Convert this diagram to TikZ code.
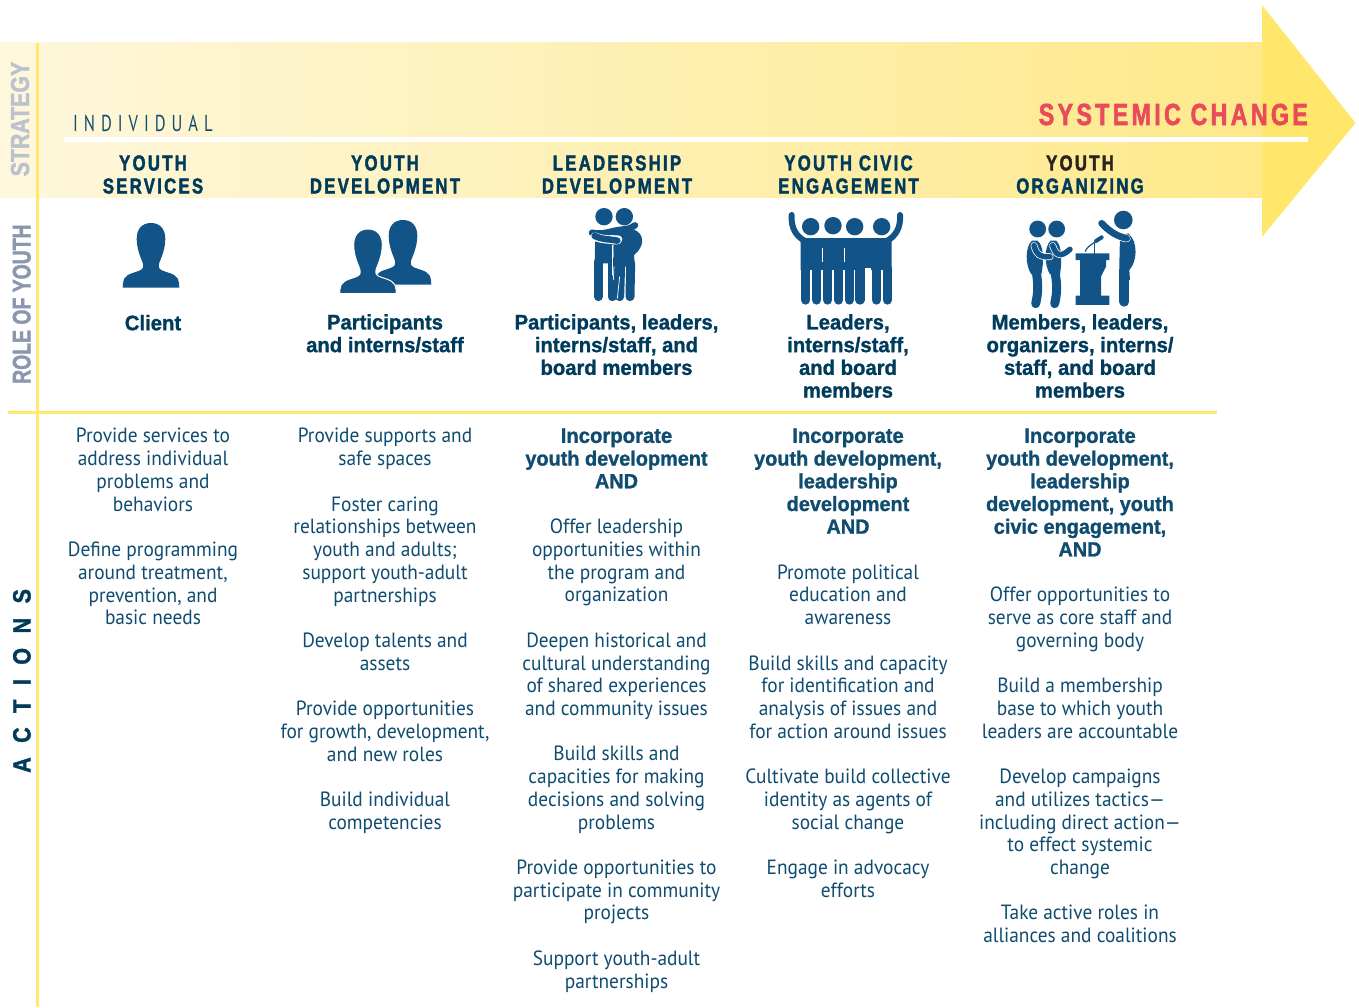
\documentclass[tikz,border=0pt]{standalone}
\usepackage{fontspec}
\setmainfont{PT Sans}[FakeStretch=0.94]
\newfontfamily\headf{Liberation Sans}[FakeStretch=0.78,LetterSpace=10.5,BoldFont={Liberation Sans Bold},BoldFeatures={FakeBold=1.9}]
\newfontfamily\rolef{Liberation Sans}[FakeStretch=0.965,BoldFont={Liberation Sans Bold},BoldFeatures={FakeBold=1.2}]
\newfontfamily\indf{PT Sans}[FakeStretch=0.72,LetterSpace=26]
\newfontfamily\sysf{Liberation Sans}[FakeStretch=0.76,LetterSpace=11,BoldFont={Liberation Sans Bold},BoldFeatures={FakeBold=1.9}]
\newfontfamily\sidef{Liberation Sans}[FakeStretch=0.82,BoldFont={Liberation Sans Bold},BoldFeatures={FakeBold=1.6}]
\newfontfamily\sideB{Liberation Sans}[FakeStretch=0.76,BoldFont={Liberation Sans Bold},BoldFeatures={FakeBold=1.6}]
\newfontfamily\sideA{Liberation Sans}[FakeStretch=0.86,LetterSpace=58,BoldFont={Liberation Sans Bold},BoldFeatures={FakeBold=1.6}]
\definecolor{inkb}{HTML}{003B5C}
\definecolor{bodyb}{HTML}{0F4C6F}
\definecolor{iconb}{HTML}{125487}
\definecolor{ylw}{HTML}{FFE76C}
\definecolor{lineY}{HTML}{FFE96F}
\definecolor{pale}{HTML}{FEF7DC}
\definecolor{mid}{HTML}{FDF1BC}
\definecolor{endy}{HTML}{FEE98A}
\definecolor{redt}{HTML}{E94B5A}
\definecolor{greyA}{HTML}{BAC2D0}
\definecolor{greyB}{HTML}{8B97AE}
\tikzset{
  x=1pt,y=-1pt,
  actiontext/.style={anchor=north,align=center,inner sep=0pt,text=bodyb,
    font=\fontsize{20.6}{22.72}\selectfont,execute at begin node={\rule{0pt}{16pt}}},
  headtext/.style={anchor=north,align=center,inner sep=0pt,text=inkb,
    font=\headf\bfseries\fontsize{21.5}{23}\selectfont,execute at begin node={\rule{0pt}{16pt}}},
  roletext/.style={anchor=north,align=center,inner sep=0pt,text=inkb,
    font=\rolef\bfseries\fontsize{21}{22.72}\selectfont,execute at begin node={\rule{0pt}{16pt}}},
  sidetext/.style={anchor=base west,rotate=90,inner sep=0pt},
  ic/.style={fill=iconb,draw=none},
  limb/.style={draw=iconb,line cap=round,line join=round},
  seam/.style={draw=white,line cap=round,line join=round},
  zoomed/.style={x=0.3333pt,y=-0.3333pt},
}
\newcommand{\pgap}{\\[22.72pt]}
\newcommand{\bust}{(0,0) .. controls (9,0) and (14.3,6) .. (14.3,15.7)
  .. controls (14.3,25) and (11,33) .. (9.3,37.3)
  .. controls (7.5,41) and (7,45) .. (9.5,46.5)
  .. controls (14,49.5) and (24,50) .. (27,56)
  .. controls (28,59) and (28.3,62) .. (28.3,64.7)
  -- (-28.3,64.7) .. controls (-28.3,62) and (-28,59) .. (-27,56)
  .. controls (-24,50) and (-14,49.5) .. (-9.5,46.5)
  .. controls (-7,45) and (-7.5,41) .. (-9.3,37.3)
  .. controls (-11,33) and (-14.3,25) .. (-14.3,15.7)
  .. controls (-14.3,6) and (-9,0) .. (0,0) -- cycle}
\begin{document}
\begin{tikzpicture}
\useasboundingbox (0,0) rectangle (1359,1007);
% arrow
\shade[left color=pale,middle color=mid,right color=endy] (0,42) rectangle (1262,197);
\fill[ylw] (1262,5) -- (1355.5,123) -- (1262,237) -- cycle;
\fill[white] (64,137) rectangle (1308,142);
\fill[lineY] (36,43) rectangle (39,1007);
\fill[lineY] (8,411) rectangle (1217,413.5);
% side labels
\node[sidetext,text=greyA,font=\sidef\bfseries\fontsize{26}{26}\selectfont] (sStrategy) at (29,176.5) {STRATEGY};
\node[sidetext,text=greyB,font=\sideB\bfseries\fontsize{25.5}{26}\selectfont] (sRole) at (30.5,384) {ROLE OF YOUTH};
\node[sidetext,text=inkb,font=\sideA\bfseries\fontsize{25}{26}\selectfont] (sActions) at (30.5,773) {ACTIONS};
% top labels
\node[anchor=base west,inner sep=0pt,text=bodyb,font=\indf\fontsize{23}{23}\selectfont] (lInd) at (73,131) {INDIVIDUAL};
\node[anchor=base east,inner sep=0pt,text=redt,font=\sysf\bfseries\fontsize{30.5}{31}\selectfont] (lSys) at (1308,125) {SYSTEMIC CHANGE};
% heads
\node[headtext] (h1) at (153,155.2) {YOUTH\\SERVICES};
\node[headtext] (h2) at (385,155.2) {YOUTH\\DEVELOPMENT};
\node[headtext] (h3) at (617,155.2) {LEADERSHIP\\DEVELOPMENT};
\node[headtext] (h4) at (848.5,155.2) {YOUTH CIVIC\\ENGAGEMENT};
\node[headtext] (h5) at (1080,155.2) {\textcolor[HTML]{2A2320}{YOUTH}\\ORGANIZING};
% roles
\node[roletext] (r1) at (153,314) {Client};
\node[roletext] (r2) at (385,314) {Participants\\and interns/staff};
\node[roletext] (r3) at (616.5,314) {Participants, leaders,\\interns/staff, and\\board members};
\node[roletext] (r4) at (848,314) {Leaders,\\interns/staff,\\and board\\members};
\node[roletext] (r5) at (1080,314) {Members, leaders,\\organizers, interns/\\staff, and board\\members};
% actions
\node[actiontext] (a1) at (153,428.2) {Provide services to\\address individual\\problems and\\behaviors\pgap
Define programming\\around treatment,\\prevention, and\\basic needs};
\node[actiontext] (a2) at (385,428.2) {Provide supports and\\safe spaces\pgap
Foster caring\\relationships between\\youth and adults;\\support youth-adult\\partnerships\pgap
Develop talents and\\assets\pgap
Provide opportunities\\for growth, development,\\and new roles\pgap
Build individual\\competencies};
\node[actiontext] (a3) at (616.5,428.2) {\rolef\bfseries\fontsize{21}{22.72}\selectfont Incorporate\\\rolef\bfseries youth development\\\rolef\bfseries AND\pgap
Offer leadership\\opportunities within\\the program and\\organization\pgap
Deepen historical and\\cultural understanding\\of shared experiences\\and community issues\pgap
Build skills and\\capacities for making\\decisions and solving\\problems\pgap
Provide opportunities to\\participate in community\\projects\pgap
Support youth-adult\\partnerships};
\node[actiontext] (a4) at (848,428.2) {\rolef\bfseries\fontsize{21}{22.72}\selectfont Incorporate\\\rolef\bfseries youth development,\\\rolef\bfseries leadership\\\rolef\bfseries development\\\rolef\bfseries AND\pgap
Promote political\\education and\\awareness\pgap
Build skills and capacity\\for identification and\\analysis of issues and\\for action around issues\pgap
Cultivate build collective\\identity as agents of\\social change\pgap
Engage in advocacy\\efforts};
\node[actiontext] (a5) at (1080,428.2) {\rolef\bfseries\fontsize{21}{22.72}\selectfont Incorporate\\\rolef\bfseries youth development,\\\rolef\bfseries leadership\\\rolef\bfseries development, youth\\\rolef\bfseries civic engagement,\\\rolef\bfseries AND\pgap
Offer opportunities to\\serve as core staff and\\governing body\pgap
Build a membership\\base to which youth\\leaders are accountable\pgap
Develop campaigns\\and utilizes tactics---\\including direct action---\\to effect systemic\\change\pgap
Take active roles in\\alliances and coalitions};
% icon 1
\fill[ic,shift={(151,223)}] \bust;
% icon 2
\fill[ic,shift={(403,220)}] \bust;
\filldraw[fill=iconb,draw=white,line width=1pt,shift={(368,229)}] \bust;
\fill[white] (336,294) rectangle (400,297);
% icon 3
\begin{scope}[shift={(580,200)},zoomed]
 \fill[iconb] (72,50) circle (8.7pt) (133,50) circle (8.7pt);
 \fill[iconb] (46,100) -- (100,100) -- (100,190) -- (44,190) -- cycle;
 \draw[limb,line width=9pt] (55,185) -- (55,290);
 \draw[limb,line width=9pt] (96,185) -- (96,290);
 \fill[iconb] (100,88) -- (160,88) .. controls (195,100) and (195,140) .. (162,165) -- (165,200) -- (102,200) -- cycle;
 \draw[limb,line width=9pt] (122,190) -- (119,290);
 \draw[limb,line width=9pt] (152,190) -- (150,290);
 \draw[seam,line width=.7pt] (97,135) -- (97,225);
 \draw[seam,line width=.7pt] (102,200) -- (100,240);
 \draw[seam,line width=.7pt] (119,230) -- (112,295);
 \draw[limb,line width=6.5pt] (145,88) -- (165,76);
 \draw[seam,line width=8pt] (38,98) .. controls (60,112) and (100,120) .. (115,118);
 \draw[limb,line width=6.5pt] (36,98) .. controls (60,104) and (80,98) .. (105,92) -- (150,85);
 \draw[seam,line width=8.4pt] (44,110) .. controls (70,120) and (90,118) .. (112,121);
 \draw[limb,line width=6.5pt] (44,108) .. controls (70,120) and (90,117) .. (112,122);
\end{scope}
% icon 4
\begin{scope}[shift={(780,205)},zoomed]
 \fill[iconb] (92,65) circle (8.7pt) (159,62) circle (8.7pt) (224,65) circle (8.7pt) (305,65) circle (8.7pt);
 \draw[limb,line width=6pt] (35,30) .. controls (32,70) and (50,95) .. (75,108);
 \draw[limb,line width=6pt] (360,30) .. controls (363,70) and (345,95) .. (320,108);
 \fill[iconb] (62,110) .. controls (62,102) and (68,99) .. (75,99) -- (320,99) .. controls (330,99) and (335,102) .. (335,110) -- (335,195) -- (62,195) -- cycle;
 \foreach \lx in {77,110,143,176,208,240,289,322}{\draw[limb,line width=9.3pt] (\lx,190) -- (\lx,285);}
 \fill[white] (126,130) rectangle (129,172);
 \fill[white] (191,130) rectangle (193,172);
 \fill[white] (256,190) rectangle (274,199);
\end{scope}
% icon 5
\begin{scope}[shift={(1020,205)},zoomed]
 \fill[iconb] (53,72) circle (8.4pt) (110,72) circle (8.4pt) (310,45) circle (9.3pt);
 \fill[iconb] (36,107) .. controls (15,125) and (15,180) .. (34,208) -- (64,208) .. controls (72,170) and (72,120) .. (52,107) -- cycle;
 \draw[limb,line width=9pt] (48,195) .. controls (55,240) and (55,260) .. (47,296);
 \fill[iconb] (92,107) .. controls (72,125) and (72,180) .. (90,208) -- (120,208) .. controls (126,170) and (126,120) .. (108,107) -- cycle;
 \draw[limb,line width=9pt] (104,195) .. controls (112,240) and (112,260) .. (104,296);
 \draw[seam,line width=7pt] (42,122) .. controls (50,150) and (60,157) .. (90,155);
 \draw[limb,line width=5.5pt] (42,122) .. controls (50,150) and (60,157) .. (90,155);
 \draw[seam,line width=7pt] (98,122) .. controls (108,150) and (120,160) .. (150,133);
 \draw[limb,line width=5.5pt] (98,122) .. controls (108,150) and (120,160) .. (150,133);
 % speaker
 \fill[iconb] (300,90) -- (325,85) .. controls (355,110) and (352,170) .. (328,195) -- (330,225) -- (297,225) -- cycle;
 \draw[limb,line width=10pt] (313,210) -- (313,290);
 \draw[seam,line width=8pt] (250,60) .. controls (275,85) and (300,97) .. (320,100);
 \draw[limb,line width=6.8pt] (245,55) .. controls (270,82) and (295,95) .. (320,100);
 % lectern
 \fill[iconb] (167,145) -- (268,145) -- (268,165) -- (258,165) -- (258,185) -- (243,215) -- (243,272) -- (268,272) -- (268,300) -- (167,300) -- (167,272) -- (180,272) -- (180,165) -- (167,165) -- cycle;
 \draw[draw=iconb,line width=1.2pt] (196,140) .. controls (198,128) and (210,122) .. (230,107);
 \draw[draw=iconb,line width=1.2pt] (224,112) -- (224,146);
 \draw[limb,line width=4pt] (228,108) -- (245,97);
\end{scope}
\end{tikzpicture}
\end{document}
